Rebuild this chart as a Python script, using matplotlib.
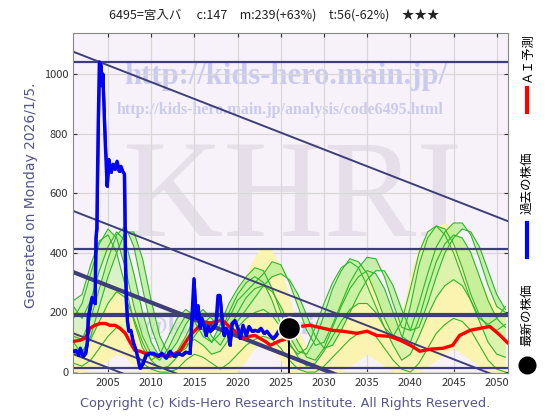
import numpy as np
import matplotlib
matplotlib.use('Agg')
import matplotlib.pyplot as plt
import matplotlib.transforms as mtransforms
from matplotlib.lines import Line2D

plt.rcParams['font.family'] = ['Noto Sans CJK JP', 'DejaVu Sans']

# ---------------- data ----------------
title_text = "6495=宮入バ　 c:147　m:239(+63%)　t:56(-62%)　★★★"
gen_text = "Generated on Monday 2026/1/5."
copy_text = "Copyright (c) Kids-Hero Research Institute. All Rights Reserved."
legend_labels = ["ＡＩ予測", "過去の株価", "最新の株価"]

x_ticks = [2005, 2010, 2015, 2020, 2025, 2030, 2035, 2040, 2045, 2050]
y_ticks = [0, 200, 400, 600, 800, 1000]

# past price (blue)
blue_years = [2001.0, 2001.3, 2001.6, 2001.8, 2002.1, 2002.4, 2002.6, 2002.7, 2002.9, 2003.15,
              2003.5, 2003.6, 2003.7, 2003.85, 2004.0, 2004.2, 2004.3, 2004.4, 2004.65, 2004.9,
              2005.1, 2005.35, 2005.6, 2005.8, 2006.05, 2006.3, 2006.5, 2006.75, 2006.9, 2007.0,
              2007.1, 2007.25, 2007.4, 2007.65, 2007.9, 2008.25, 2008.5, 2008.7, 2009.05, 2009.4,
              2009.85, 2010.3, 2010.8, 2011.25, 2011.7, 2012.2, 2012.65, 2013.1, 2013.55, 2014.0,
              2014.5, 2014.95, 2015.19, 2015.42, 2015.65, 2015.88, 2016.11, 2016.34, 2016.57, 2016.81,
              2017.15, 2017.5, 2017.73, 2017.96, 2018.19, 2018.43, 2018.66, 2018.89, 2019.12, 2019.35,
              2019.7, 2020.05, 2020.28, 2020.63, 2020.97, 2021.32, 2021.67, 2022.01, 2022.36, 2022.71,
              2023.06, 2023.4, 2023.75, 2024.1, 2024.44, 2024.79, 2025.14, 2025.49, 2025.8]
blue_values = [70, 73, 57, 80, 53, 63, 100, 180, 213, 250,
               230, 450, 480, 800, 1040, 1030, 960, 1000, 790, 623,
               713, 670, 697, 680, 707, 673, 690, 670, 665, 400,
               250, 170, 137, 140, 103, 73, 40, 13, 30, 57,
               63, 63, 53, 63, 47, 70, 53, 63, 57, 67,
               63, 313, 180, 223, 147, 180, 157, 123, 153, 137,
               147, 163, 257, 257, 180, 123, 147, 137, 90, 163,
               173, 147, 113, 157, 123, 153, 137, 140, 137, 147,
               130, 137, 123, 113, 123, 140, 130, 123, 135]

# AI prediction (red)
red_years = [2001.0, 2001.8, 2002.3, 2002.7, 2002.9, 2003.5, 2004.1, 2004.7, 2005.2, 2005.8,
             2006.4, 2007.0, 2007.5, 2008.1, 2008.7, 2009.3, 2009.9, 2010.4, 2011.6, 2012.2,
             2012.8, 2013.3, 2013.9, 2014.5, 2015.1, 2015.6, 2016.2, 2016.8, 2017.4, 2018.0,
             2018.5, 2019.1, 2019.7, 2020.3, 2020.9, 2021.4, 2022.0, 2022.6, 2023.2, 2023.8,
             2024.3, 2024.9, 2025.5, 2026.1, 2027.2, 2028.4, 2029.9, 2031.0, 2032.2, 2033.8,
             2035.0, 2036.1, 2037.6, 2038.8, 2040.0, 2041.1, 2042.3, 2043.8, 2044.9, 2045.7,
             2046.9, 2048.1, 2049.2, 2050.4, 2051.3]
red_values = [103, 107, 113, 130, 147, 157, 163, 163, 157, 157,
              147, 130, 103, 73, 70, 63, 63, 57, 57, 53,
              63, 70, 97, 123, 140, 155, 168, 165, 168, 173,
              168, 150, 137, 123, 113, 120, 123, 113, 103, 90,
              97, 105, 110, 140, 153, 157, 147, 140, 137, 130,
              137, 123, 120, 107, 90, 70, 77, 80, 90, 123,
              140, 147, 153, 123, 97]

latest_year = 2026.0
latest_price = 147

# forecast ensemble (green) on a yearly grid
g_years = list(range(2001, 2052))
green_a = [180, 230, 330, 430, 480, 450, 350, 220, 120, 60,
           40, 80, 140, 190, 170, 120, 100, 160, 230, 280,
           320, 350, 340, 280, 200, 120, 70, 60, 110, 190,
           280, 340, 380, 370, 330, 260, 180, 120, 110, 220,
           360, 450, 490, 480, 430, 350, 260, 190, 150, 140, 160]
green_b = [120, 110, 180, 280, 380, 460, 490, 420, 280, 150,
           70, 50, 70, 120, 180, 210, 180, 140, 180, 240,
           270, 300, 330, 370, 360, 300, 220, 140, 90, 100,
           160, 230, 300, 350, 385, 380, 320, 230, 150, 140,
           230, 330, 420, 470, 500, 500, 460, 380, 290, 220, 200]
green_c = [60, 70, 110, 170, 230, 270, 250, 180, 100, 40,
           10, 20, 50, 90, 110, 90, 60, 70, 110, 150,
           180, 200, 210, 190, 150, 100, 50, 20, 30, 70,
           120, 170, 210, 230, 230, 200, 150, 90, 40, 60,
           120, 190, 250, 290, 310, 290, 240, 170, 100, 60, 50]
green_d = [220, 180, 240, 340, 420, 470, 440, 330, 200, 100,
           50, 60, 100, 160, 200, 180, 120, 90, 140, 200,
           250, 280, 290, 270, 220, 160, 100, 50, 40, 80,
           150, 220, 280, 320, 340, 330, 280, 200, 120, 100,
           180, 280, 370, 430, 460, 450, 400, 320, 240, 180, 150]
green_e = [30, 20, 40, 80, 120, 150, 130, 80, 30, 10,
           0, 0, 10, 40, 60, 50, 30, 10, 30, 60,
           90, 110, 120, 110, 80, 40, 10, 0, 0, 20,
           50, 80, 110, 130, 140, 120, 80, 40, 10, 0,
           30, 80, 130, 160, 180, 170, 140, 90, 40, 10, 0]
green_f = [100, 60, 120, 220, 320, 400, 470, 470, 380, 240,
           120, 60, 60, 80, 120, 160, 190, 180, 150, 170,
           210, 250, 290, 320, 330, 310, 260, 190, 120, 80,
           90, 140, 200, 260, 310, 340, 340, 290, 210, 140,
           150, 230, 320, 400, 450, 480, 470, 420, 340, 260, 210]
green_g = [240, 260, 360, 440, 460, 400, 290, 170, 80, 40,
           60, 120, 180, 210, 190, 140, 100, 130, 200, 260,
           300, 320, 300, 240, 160, 90, 60, 80, 150, 230,
           300, 350, 370, 350, 290, 220, 150, 120, 170, 280,
           400, 470, 490, 460, 400, 320, 240, 180, 160, 180, 220]
yellow_hi = [150, 120, 160, 220, 270, 300, 280, 210, 130, 70,
             40, 60, 90, 130, 160, 140, 90, 120, 200, 260,
             330, 390, 420, 410, 350, 250, 150, 80, 70, 120,
             220, 300, 330, 340, 330, 300, 250, 180, 200, 330,
             420, 470, 490, 500, 490, 440, 380, 320, 260, 220, 200]
yellow_lo = [0, 0, 10, 20, 40, 60, 50, 20, 0, 0,
             0, 0, 0, 0, 0, 0, 0, 0, 0, 0,
             40, 80, 100, 90, 40, 0, 0, 0, 0, 0,
             0, 0, 20, 40, 60, 40, 20, 0, 0, 0,
             0, 20, 40, 60, 80, 60, 40, 20, 0, 0, 0]

# support / resistance lines
h_levels = [1040, 412, 190, 13]
h_widths = [1.6, 1.6, 3.0, 1.6]
diag_x = [2001.0, 2051.3]
diag_start = [1074, 540, 335, 130, 60]
diag_end = [506, -28, -233, -438, -508]
diag_widths = [1.4, 1.4, 3.0, 1.4, 1.4]

# ---------------- figure ----------------
fig = plt.figure(figsize=(5.6, 4.2), dpi=100)
ax = fig.add_axes([73/560, 47/420, 435/560, 340/420])
ax.set_facecolor('#f7f2f9')
ax.set_xlim(2000.95, 2051.3)
ax.set_ylim(-3, 1137)

ax.set_xticks(x_ticks)
ax.set_yticks(y_ticks)
ax.grid(True, color='#d8d8d8', lw=0.9, zorder=0)
ax.set_axisbelow(True)
ax.tick_params(direction='in', top=True, right=True, labelsize=8, colors='#333333', length=3)
for s in ax.spines.values():
    s.set_color('#888888')
    s.set_linewidth(0.8)

# watermarks
ax.text(0.49, 0.871, "http://kids-hero.main.jp/", transform=ax.transAxes, ha='center', va='center',
        fontsize=22, fontweight='bold', family='Liberation Serif', color='#cacaee', zorder=0.5)
ax.text(0.476, 0.774, "http://kids-hero.main.jp/analysis/code6495.html", transform=ax.transAxes,
        ha='center', va='center', fontsize=11.5, fontweight='bold', family='Liberation Serif',
        color='#cacaee', zorder=0.5)
ax.text(0.505, 0.50, "KHRI", transform=ax.transAxes, ha='center', va='center', fontsize=100,
        family='Liberation Serif', color='#e6dfe9', zorder=0.5)
ax.text(0.07, 0.135, "info@kids-hero.main.jp", transform=ax.transAxes, ha='left', va='center',
        fontsize=18, fontweight='bold', family='Liberation Serif', color='#cfcfec', zorder=0.5)

# ensemble
ax.fill_between(g_years, yellow_lo, yellow_hi, color='#fbf3b0', lw=0, zorder=1)
ax.fill_between(g_years, green_a, green_d, color='#b8ef95', alpha=0.75, lw=0, zorder=1.1)
ax.fill_between(g_years, green_b, green_f, color='#b8ef95', alpha=0.75, lw=0, zorder=1.1)
ax.fill_between(g_years, green_c, green_g, color='#c8f3a8', alpha=0.6, lw=0, zorder=1.1)
for g in [green_a, green_b, green_c, green_d, green_e, green_f, green_g]:
    ax.plot(g_years, g, color='#2fb52a', lw=0.8, zorder=1.2)

# lines
for lvl, w in zip(h_levels, h_widths):
    ax.axhline(lvl, color='#3e3e7a', lw=w, zorder=2)
for y0, y1, w in zip(diag_start, diag_end, diag_widths):
    ax.plot(diag_x, [y0, y1], color='#3e3e7a', lw=w, zorder=2)

ax.plot(red_years, red_values, color='#ff0000', lw=2.4, zorder=3, solid_capstyle='round')
shadow = mtransforms.offset_copy(ax.transData, fig=fig, x=1.0, y=-1.0, units='dots')
ax.plot(blue_years, blue_values, color='#000000', lw=1.0, zorder=3.5, transform=shadow)
ax.plot(blue_years, blue_values, color='#0000ff', lw=2.4, zorder=4)
ax.plot([latest_year, latest_year], [0, latest_price], color='black', lw=1.4, zorder=4.5)
ax.plot([latest_year], [latest_price], 'o', color='black', markersize=16,
        markeredgecolor='white', markeredgewidth=1.2, zorder=5)

# texts
fig.text(0.49, 0.965, title_text, ha='center', va='center', fontsize=9, color='#222222')
fig.text(0.055, 0.535, gen_text, rotation=90, ha='center', va='center', fontsize=10,
         color='#55558a', family='DejaVu Sans')
fig.text(0.51, 0.04, copy_text, ha='center', va='center', fontsize=9.3, color='#55558a',
         family='DejaVu Sans')

# right legend
lx = 527/560
fig.add_artist(Line2D([lx, lx], [1-112/420, 1-88/420], color='#ff0000', lw=3))
fig.text(lx, 1-58/420, legend_labels[0], rotation=90, ha='center', va='center', fontsize=9)
fig.add_artist(Line2D([lx, lx], [1-257/420, 1-223/420], color='#0000ff', lw=3))
fig.text(lx, 1-183/420, legend_labels[1], rotation=90, ha='center', va='center', fontsize=9)
fig.add_artist(Line2D([lx], [1-365/420], marker='o', color='black', markersize=12, lw=0))
fig.text(lx, 1-315/420, legend_labels[2], rotation=90, ha='center', va='center', fontsize=9)

fig.savefig('out.png', dpi=100)
